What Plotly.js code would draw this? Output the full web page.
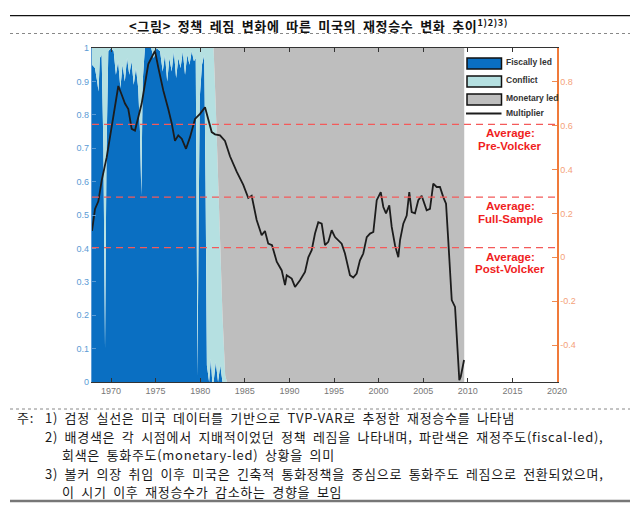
<!DOCTYPE html>
<html>
<head>
<meta charset="utf-8">
<script src="https://cdn.plot.ly/plotly-3.0.1.min.js"></script>
<style>
  html, body { margin: 0; padding: 0; background: #fff; }
  #chart { width: 640px; height: 506px; }
  /* the report's Korean font is set wider than Noto, so open it up a little */
  text.annotation-text { letter-spacing: 0.7px; word-spacing: 3px; }
  text.annotation-text[data-unformatted^="<b>"] { letter-spacing: 0; word-spacing: 0; }
  text.annotation-text.title-kr { letter-spacing: 1px; word-spacing: 3.5px; }
</style>
</head>
<body>
<div id="chart"></div>
<script>
// regime shares (fiscal / conflict / monetary)
const regimeYears = [
  1967.87, 1968.2, 1968.45, 1968.6, 1968.75, 1968.95, 1969.15, 1969.33, 1969.5, 1969.7,
  1970.0, 1970.3, 1970.55, 1970.8, 1971.05, 1971.3, 1971.55, 1971.8, 1972.05, 1972.3,
  1972.55, 1972.8, 1973.05, 1973.25, 1973.4, 1973.55, 1973.8, 1974.5, 1974.8, 1975.1,
  1975.5, 1975.8, 1976.05, 1976.3, 1976.55, 1976.8, 1977.05, 1977.3, 1977.55, 1977.8,
  1978.05, 1978.3, 1978.55, 1978.8, 1979.05, 1979.3, 1979.5, 1979.62, 1979.7, 1979.8,
  1979.95, 1980.2, 1980.45, 1980.6, 1980.75, 1981.0, 1981.2, 1981.35, 1981.5, 1981.75,
  1982.0, 1982.25, 1982.5, 1982.8, 1983.0, 2009.6
];
const fiscalLed = [
  0.95, 0.94, 0.90, 0.87, 0.97, 0.98, 0.70, 0.10, 0.70, 0.99,
  1.00, 0.99, 0.92, 0.96, 0.88, 0.95, 0.90, 0.97, 0.92, 0.96,
  0.89, 0.94, 0.88, 0.75, 0.56, 0.90, 1.00, 1.00, 0.97, 1.00,
  0.99, 0.93, 0.98, 0.90, 0.97, 0.93, 0.99, 0.91, 0.97, 0.94,
  0.99, 0.92, 0.98, 0.95, 0.99, 0.96, 0.97, 0.30, 0.02, 0.40,
  0.85, 0.95, 0.98, 0.60, 0.05, 0.00, 0.07, 0.00, 0.00, 0.06,
  0.00, 0.05, 0.00, 0.00, 0.00, 0.00
];
const conflict = [
  0.05, 0.06, 0.10, 0.13, 0.03, 0.02, 0.30, 0.90, 0.30, 0.01,
  0.00, 0.01, 0.08, 0.04, 0.12, 0.05, 0.10, 0.03, 0.08, 0.04,
  0.11, 0.06, 0.12, 0.25, 0.44, 0.10, 0.00, 0.00, 0.03, 0.00,
  0.01, 0.07, 0.02, 0.10, 0.03, 0.07, 0.01, 0.09, 0.03, 0.06,
  0.01, 0.08, 0.02, 0.05, 0.01, 0.04, 0.03, 0.70, 0.98, 0.60,
  0.15, 0.05, 0.02, 0.40, 0.95, 1.00, 0.93, 1.00, 1.00, 0.76,
  0.60, 0.35, 0.20, 0.02, 0.00, 0.00
];
const monetaryLed = [
  0, 0, 0, 0, 0, 0, 0, 0, 0, 0,
  0, 0, 0, 0, 0, 0, 0, 0, 0, 0,
  0, 0, 0, 0, 0, 0, 0, 0, 0, 0,
  0, 0, 0, 0, 0, 0, 0, 0, 0, 0,
  0, 0, 0, 0, 0, 0, 0, 0, 0, 0,
  0, 0, 0, 0, 0, 0, 0, 0, 0, 0.18,
  0.40, 0.60, 0.80, 0.98, 1.00, 1.00
];

// fiscal multiplier (right axis)
const multYears = [
  1967.87, 1968.21, 1968.58, 1968.96, 1969.52, 1970.08, 1970.45, 1970.82, 1971.20, 1971.57,
  1971.94, 1972.32, 1972.69, 1973.06, 1973.44, 1973.81, 1974.18, 1974.56, 1974.93, 1975.30,
  1975.86, 1976.42, 1976.81, 1977.17, 1977.54, 1977.93, 1978.41, 1978.86, 1979.42, 1979.98,
  1980.54, 1981.29, 1981.66, 1982.22, 1982.78, 1983.34, 1984.09, 1984.83, 1985.39, 1985.77,
  1986.33, 1986.89, 1987.26, 1987.63, 1988.05, 1988.58, 1989.14, 1989.51, 1989.70, 1990.26,
  1990.63, 1991.19, 1991.75, 1992.12, 1992.50, 1992.87, 1993.24, 1993.62, 1993.99, 1994.36,
  1994.74, 1995.11, 1995.48, 1995.86, 1996.23, 1996.79, 1997.16, 1997.54, 1997.91, 1998.28,
  1998.67, 1999.04, 1999.41, 1999.79, 2000.24, 2000.53, 2000.83, 2001.20, 2001.47, 2001.84,
  2002.21, 2002.40, 2002.77, 2003.15, 2003.44, 2003.71, 2004.08, 2004.45, 2004.83, 2005.39,
  2005.76, 2006.13, 2006.51, 2006.88, 2007.25, 2007.56, 2007.81, 2008.20, 2008.57, 2008.94,
  2009.05, 2009.21, 2009.58
];
const multiplier = [
  0.12, 0.22, 0.255, 0.35, 0.456, 0.59, 0.68, 0.78, 0.74, 0.70,
  0.675, 0.585, 0.577, 0.645, 0.70, 0.79, 0.88, 0.91, 0.94, 0.865,
  0.76, 0.675, 0.61, 0.53, 0.555, 0.54, 0.494, 0.547, 0.63, 0.653,
  0.683, 0.57, 0.56, 0.555, 0.53, 0.46, 0.39, 0.33, 0.27, 0.28,
  0.17, 0.10, 0.12, 0.062, 0.055, -0.02, -0.06, -0.127, -0.082, -0.097,
  -0.135, -0.105, -0.067, 0.0, 0.032, 0.108, 0.16, 0.153, 0.055, 0.07,
  0.123, 0.092, 0.077, 0.062, 0.017, -0.082, -0.092, -0.074, -0.014, 0.017,
  0.092, 0.108, 0.115, 0.26, 0.297, 0.229, 0.2, 0.236, 0.138, 0.055,
  0.0, 0.077, 0.153, 0.19, 0.297, 0.206, 0.2, 0.26, 0.28, 0.214,
  0.22, 0.335, 0.32, 0.32, 0.274, 0.244, 0.077, -0.195, -0.226, -0.53,
  -0.56, -0.544, -0.468
];

const averageNames = ['Pre-Volcker', 'Full-Sample', 'Post-Volcker'];
const averageLevels = [0.605, 0.274, 0.044];

const xTicks = [1970, 1975, 1980, 1985, 1990, 1995, 2000, 2005, 2010, 2015, 2020];
const leftTicks = [0, 0.1, 0.2, 0.3, 0.4, 0.5, 0.6, 0.7, 0.8, 0.9, 1];
const leftLabels = ['0', '0.1', '0.2', '0.3', '0.4', '0.5', '0.6', '0.7', '0.8', '0.9', '1'];
const rightTicks = [-0.4, -0.2, 0, 0.2, 0.4, 0.6, 0.8];
const rightLabels = ['-0.4', '-0.2', '0', '0.2', '0.4', '0.6', '0.8'];

const legendNames = ['Fiscally led', 'Conflict', 'Monetary led', 'Multiplier'];

const colBlue = '#0a6fc2';
const colCyan = '#b5e0e1';
const colGray = '#bebebe';
const sans = 'Liberation Sans, Arial, sans-serif';
const kr = 'Noto Sans CJK KR, sans-serif';

function area(name, ys, color) {
  return {
    type: 'scatter', mode: 'lines', name: name,
    x: regimeYears, y: ys, stackgroup: 'regime',
    line: { width: 0, shape: 'linear' }, fillcolor: color,
    hoverinfo: 'skip', showlegend: false
  };
}

const data = [
  area(legendNames[0], fiscalLed, colBlue),
  area(legendNames[1], conflict, colCyan),
  area(legendNames[2], monetaryLed, colGray),
  {
    type: 'scatter', mode: 'lines', name: legendNames[3],
    x: multYears, y: multiplier, yaxis: 'y2',
    line: { color: '#1c1c1c', width: 1.8 }, showlegend: false
  }
];

// page frame (px -> paper helpers, plot area is 92..557 x 48..382)
const px = v => (v - 92) / 465;
const py = v => (382 - v) / 334;

const shapes = [];
const annotations = [];

// average dashed lines + two-line labels
averageLevels.forEach((lv, i) => {
  shapes.push({
    type: 'line', xref: 'paper', x0: 0, x1: 1, yref: 'y2', y0: lv, y1: lv,
    line: { color: '#f45a5a', width: 1.3, dash: '7px,5px' }
  });
  ['Average:', averageNames[i]].forEach((t, k) => {
    annotations.push({
      xref: 'paper', x: px(510), yref: 'y2', y: lv, yanchor: 'top', yshift: -1 - k * 12.5,
      xanchor: 'center', align: 'center', showarrow: false,
      text: '<b>' + t + '</b>',
      font: { family: sans, size: 11.5, color: '#f01e1e' }
    });
  });
});

// legend swatches
const swatchCols = [colBlue, colCyan, colGray];
const rowY = [63.5, 81.5, 99.5, 113.5];
swatchCols.forEach((c, i) => {
  shapes.push({
    type: 'rect', xref: 'paper', yref: 'paper',
    x0: px(467), x1: px(501.5), y0: py(rowY[i] + 5.5), y1: py(rowY[i] - 5.5),
    fillcolor: c, line: { color: '#111', width: 1.5 }
  });
});
shapes.push({
  type: 'line', xref: 'paper', yref: 'paper',
  x0: px(466), x1: px(501.5), y0: py(rowY[3]), y1: py(rowY[3]),
  line: { color: '#1c1c1c', width: 2 }
});
legendNames.forEach((n, i) => {
  annotations.push({
    xref: 'paper', yref: 'paper', x: px(504), y: py(rowY[i] - (i === 3 ? 1 : 2)),
    xanchor: 'left', yanchor: 'middle', showarrow: false,
    text: '<b>' + n + '</b>', font: { family: sans, size: 8.5, color: '#333' }
  });
});

// title block and notes
shapes.push({ type: 'line', xref: 'paper', yref: 'paper', x0: px(10), x1: px(630), y0: py(15.7), y1: py(15.7), line: { color: '#111', width: 1.3 } });
shapes.push({ type: 'line', xref: 'paper', yref: 'paper', x0: px(10), x1: px(630), y0: py(33.5), y1: py(33.5), line: { color: '#888', width: 1, dash: 'dot' } });
shapes.push({ type: 'line', xref: 'paper', yref: 'paper', x0: px(10), x1: px(630), y0: py(409), y1: py(409), line: { color: '#888', width: 1, dash: 'dot' } });
shapes.push({ type: 'line', xref: 'paper', yref: 'paper', x0: px(10), x1: px(630), y0: py(501), y1: py(501), line: { color: '#777', width: 2.5 } });

annotations.push({
  xref: 'paper', yref: 'paper', x: px(318), y: py(25), xanchor: 'center', yanchor: 'middle',
  showarrow: false,
  text: '&lt;그림&gt; 정책 레짐 변화에 따른 미국의 재정승수 변화 추이<sup>1)2)3)</sup>',
  font: { family: kr, size: 13, color: '#111', weight: 'bold' }
});

const notes = [
  [15, 417.7, '주:'],
  [43, 417.7, '1) 검정 실선은 미국 데이터를 기반으로 TVP-VAR로 추정한 재정승수를 나타냄'],
  [43, 436.7, '2) 배경색은 각 시점에서 지배적이었던 정책 레짐을 나타내며, 파란색은 재정주도(fiscal-led),'],
  [60, 454.5, '회색은 통화주도(monetary-led) 상황을 의미'],
  [43, 473.3, '3) 볼커 의장 취임 이후 미국은 긴축적 통화정책을 중심으로 통화주도 레짐으로 전환되었으며,'],
  [60, 491.7, '이 시기 이후 재정승수가 감소하는 경향을 보임']
];
notes.forEach(n => {
  annotations.push({
    xref: 'paper', yref: 'paper', x: px(n[0]), y: py(n[1]), xanchor: 'left', yanchor: 'middle',
    showarrow: false, text: n[2], font: { family: kr, size: 13, color: '#1a1a1a' }
  });
});

const layout = {
  width: 640, height: 506,
  margin: { l: 92, r: 83, t: 48, b: 124 },
  paper_bgcolor: '#fff', plot_bgcolor: '#fff',
  showlegend: false,
  xaxis: {
    range: [1967.87, 2020], tickvals: xTicks, ticktext: xTicks.map(String),
    ticks: 'inside', ticklen: 4, tickcolor: '#333', tickwidth: 1,
    showline: true, linecolor: '#333', linewidth: 1, mirror: 'ticks',
    showgrid: false, zeroline: false,
    tickfont: { family: sans, size: 9, color: '#777' }
  },
  yaxis: {
    range: [0, 1], tickvals: leftTicks, ticktext: leftLabels,
    ticks: 'inside', ticklen: 4, tickcolor: '#5b9bd5',
    showline: true, linecolor: '#5b9bd5', linewidth: 1.2,
    showgrid: false, zeroline: false,
    tickfont: { family: sans, size: 9, color: '#5b9bd5' }
  },
  yaxis2: {
    overlaying: 'y', side: 'right',
    range: [-0.568, 0.953], tickvals: rightTicks, ticktext: rightLabels,
    ticks: 'inside', ticklen: 5, tickcolor: '#f08a50',
    showline: true, linecolor: '#f07a3a', linewidth: 1.5,
    showgrid: false, zeroline: false,
    tickfont: { family: sans, size: 9, color: '#f4a27a' }
  },
  shapes: shapes,
  annotations: annotations
};

Plotly.newPlot('chart', data, layout, { displayModeBar: false, staticPlot: true });
</script>
</body>
</html>
